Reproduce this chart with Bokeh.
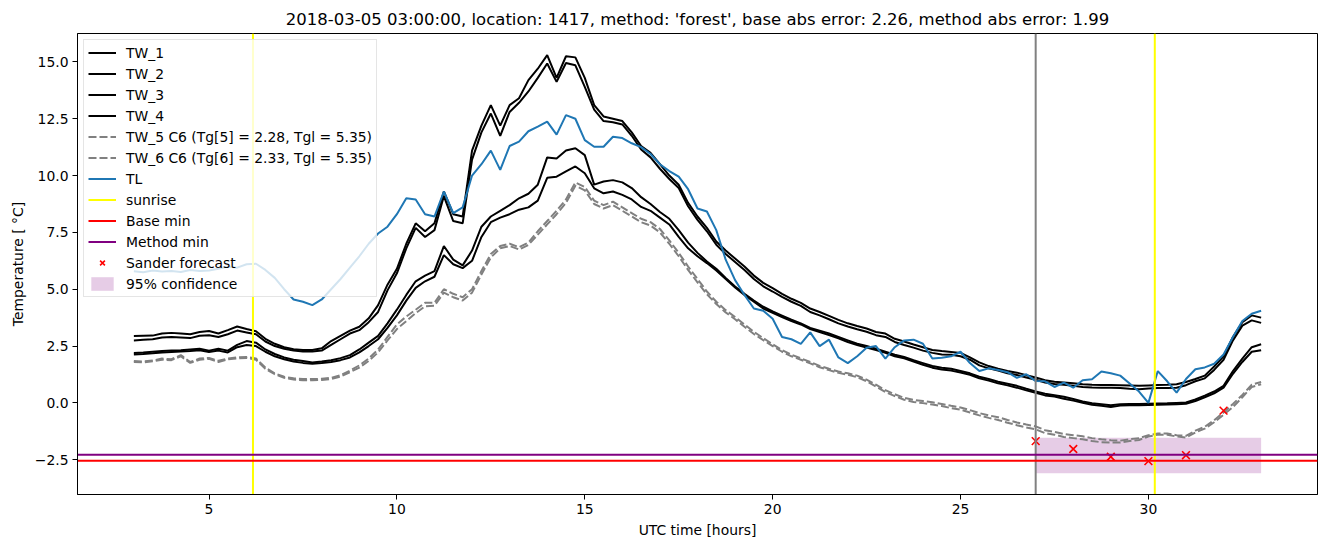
import numpy as np
from bokeh.plotting import figure
from bokeh.models import (ColumnDataSource, Range1d, Span, Legend, LegendItem,
                          FixedTicker)
from bokeh.embed import file_html
from bokeh.resources import INLINE

# ---------------- data ----------------
time_h = np.arange(3.0, 33.001, 0.25)   # UTC time [hours], 15-min grid

TW_1 = [2.94, 2.95, 2.96, 3.05, 3.08, 3.05, 3.02, 3.12,
        3.16, 3.05, 3.20, 3.36, 3.25, 3.15, 2.82, 2.60,
        2.45, 2.36, 2.33, 2.33, 2.40, 2.72, 2.95, 3.18,
        3.35, 3.72, 4.30, 5.20, 5.90, 7.00, 7.90, 7.55,
        7.90, 9.30, 8.30, 8.20, 11.10, 12.20, 13.10, 12.20,
        13.10, 13.40, 14.20, 14.70, 15.30, 14.30, 15.25, 15.20,
        14.30, 13.10, 12.60, 12.50, 12.40, 11.90, 11.30, 11.00,
        10.50, 10.00, 9.60, 8.80, 8.20, 7.70, 7.10, 6.70,
        6.35, 6.00, 5.60, 5.28, 5.05, 4.80, 4.58, 4.40,
        4.15, 4.00, 3.83, 3.65, 3.50, 3.38, 3.27, 3.12,
        3.05, 2.82, 2.70, 2.57, 2.45, 2.33, 2.28, 2.24,
        2.20, 2.00, 1.78, 1.62, 1.50, 1.40, 1.33, 1.22,
        1.12, 1.00, 0.93, 0.90, 0.86, 0.82, 0.80, 0.79,
        0.79, 0.78, 0.77, 0.75, 0.77, 0.79, 0.80, 0.82,
        0.92, 1.05, 1.20, 1.60, 2.05, 2.90, 3.55, 3.85,
        3.75]

TW_2 = [2.75, 2.78, 2.80, 2.88, 2.90, 2.88, 2.85, 2.95,
        2.98, 2.90, 3.02, 3.18, 3.10, 3.02, 2.70, 2.50,
        2.38, 2.30, 2.26, 2.26, 2.30, 2.55, 2.80, 3.05,
        3.20, 3.55, 4.00, 4.95, 5.70, 6.80, 7.70, 7.30,
        7.60, 9.10, 8.00, 7.90, 10.70, 11.90, 12.73, 11.75,
        12.80, 13.20, 13.70, 14.30, 14.93, 14.12, 14.95, 14.85,
        13.90, 12.90, 12.40, 12.35, 12.25, 11.75, 11.15, 10.80,
        10.30, 9.85, 9.45, 8.65, 8.05, 7.55, 6.96, 6.55,
        6.20, 5.85, 5.45, 5.13, 4.90, 4.66, 4.45, 4.27,
        4.00, 3.85, 3.68, 3.50, 3.36, 3.24, 3.13, 2.98,
        2.90, 2.68, 2.55, 2.43, 2.30, 2.20, 2.13, 2.12,
        2.05, 1.90, 1.65, 1.52, 1.42, 1.30, 1.23, 1.12,
        1.02, 0.90, 0.83, 0.80, 0.75, 0.70, 0.68, 0.67,
        0.67, 0.66, 0.62, 0.60, 0.63, 0.65, 0.66, 0.67,
        0.78, 0.95, 1.08, 1.45, 1.90, 2.75, 3.40, 3.63,
        3.52]

TW_3 = [2.20, 2.22, 2.25, 2.28, 2.30, 2.32, 2.35, 2.38,
        2.30, 2.38, 2.30, 2.55, 2.72, 2.65, 2.35, 2.15,
        2.00, 1.90, 1.84, 1.78, 1.82, 1.88, 1.97, 2.10,
        2.35, 2.65, 2.95, 3.50, 4.10, 4.75, 5.35, 5.60,
        5.80, 6.90, 6.30, 6.05, 6.70, 7.75, 8.20, 8.45,
        8.70, 9.00, 9.20, 9.60, 10.80, 10.75, 11.10, 11.20,
        10.90, 9.60, 9.74, 9.80, 9.70, 9.45, 9.05, 8.75,
        8.40, 8.10, 7.60, 7.05, 6.60, 6.22, 5.90, 5.50,
        5.12, 4.80, 4.50, 4.23, 4.02, 3.84, 3.66, 3.50,
        3.30, 3.18, 3.05, 2.90, 2.75, 2.60, 2.50, 2.38,
        2.25, 2.12, 2.02, 1.88, 1.75, 1.62, 1.55, 1.50,
        1.40, 1.30, 1.15, 1.05, 0.93, 0.84, 0.75, 0.62,
        0.50, 0.40, 0.34, 0.27, 0.17, 0.06, -0.02, -0.06,
        -0.10, -0.06, -0.05, -0.05, -0.04, -0.03, -0.02, 0.00,
        0.02, 0.15, 0.32, 0.50, 0.75, 1.40, 1.95, 2.45,
        2.58]

TW_4 = [2.13, 2.15, 2.18, 2.22, 2.24, 2.26, 2.28, 2.32,
        2.24, 2.30, 2.22, 2.45, 2.55, 2.50, 2.25, 2.05,
        1.92, 1.82, 1.76, 1.72, 1.75, 1.80, 1.88, 2.00,
        2.22, 2.50, 2.80, 3.30, 3.85, 4.50, 5.06, 5.35,
        5.55, 6.50, 6.10, 5.93, 6.25, 7.30, 7.95, 8.15,
        8.30, 8.50, 8.60, 8.90, 9.90, 9.95, 10.18, 10.40,
        10.10, 9.44, 9.22, 9.30, 9.15, 8.95, 8.62, 8.45,
        8.15, 7.85, 7.30, 6.80, 6.45, 6.15, 5.82, 5.45,
        5.08, 4.75, 4.45, 4.15, 3.96, 3.78, 3.60, 3.45,
        3.25, 3.12, 2.98, 2.84, 2.68, 2.55, 2.43, 2.32,
        2.20, 2.05, 1.96, 1.82, 1.68, 1.55, 1.47, 1.42,
        1.34, 1.24, 1.08, 0.98, 0.86, 0.77, 0.67, 0.55,
        0.44, 0.33, 0.28, 0.18, 0.10, 0.01, -0.08, -0.13,
        -0.18, -0.12, -0.10, -0.10, -0.09, -0.08, -0.07, -0.06,
        -0.04, 0.08, 0.25, 0.42, 0.67, 1.28, 1.80, 2.25,
        2.32]

TW_5 = [1.84, 1.82, 1.86, 1.95, 1.92, 2.10, 1.80, 1.95,
        1.98, 1.85, 1.95, 2.00, 2.02, 1.95, 1.55, 1.30,
        1.15, 1.08, 1.05, 1.05, 1.06, 1.10, 1.22, 1.42,
        1.65, 1.95, 2.35, 2.90, 3.45, 3.80, 4.10, 4.40,
        4.40, 5.00, 4.80, 4.65, 5.00, 5.80, 6.55, 6.90,
        7.00, 6.85, 7.05, 7.55, 8.00, 8.45, 8.95, 9.70,
        9.50, 8.90, 8.70, 8.85, 8.60, 8.35, 8.10, 7.95,
        7.65, 7.15, 6.60, 6.00, 5.45, 4.90, 4.45, 4.08,
        3.78, 3.45, 3.13, 2.85, 2.58, 2.32, 2.12, 1.96,
        1.80, 1.63, 1.50, 1.38, 1.30, 1.20, 1.02, 0.80,
        0.56, 0.38, 0.22, 0.13, 0.08, 0.03, -0.05, -0.13,
        -0.20, -0.32, -0.45, -0.55, -0.63, -0.75, -0.86, -0.95,
        -1.03, -1.20, -1.28, -1.37, -1.42, -1.47, -1.55, -1.60,
        -1.64, -1.66, -1.60, -1.55, -1.42, -1.35, -1.35, -1.42,
        -1.45, -1.22, -1.05, -0.76, -0.42, -0.05, 0.35, 0.80,
        0.92]

TW_6 = [1.80, 1.78, 1.83, 1.90, 1.88, 2.05, 1.76, 1.90,
        1.94, 1.80, 1.92, 1.96, 1.98, 1.90, 1.50, 1.26,
        1.10, 1.03, 1.00, 1.00, 1.01, 1.05, 1.16, 1.35,
        1.55, 1.85, 2.22, 2.75, 3.25, 3.60, 3.95, 4.25,
        4.28, 4.85, 4.65, 4.50, 4.85, 5.65, 6.40, 6.80,
        6.90, 6.75, 6.95, 7.40, 7.85, 8.30, 8.80, 9.55,
        9.35, 8.75, 8.55, 8.70, 8.45, 8.20, 7.95, 7.80,
        7.50, 7.00, 6.45, 5.85, 5.30, 4.78, 4.35, 3.98,
        3.68, 3.35, 3.03, 2.76, 2.50, 2.25, 2.05, 1.90,
        1.74, 1.57, 1.44, 1.32, 1.24, 1.13, 0.95, 0.72,
        0.48, 0.30, 0.14, 0.04, -0.01, -0.07, -0.14, -0.23,
        -0.30, -0.42, -0.55, -0.66, -0.75, -0.87, -0.98, -1.08,
        -1.16, -1.33, -1.40, -1.50, -1.55, -1.60, -1.68, -1.73,
        -1.74, -1.74, -1.68, -1.63, -1.48, -1.40, -1.40, -1.48,
        -1.52, -1.30, -1.13, -0.85, -0.52, -0.18, 0.25, 0.70,
        0.82]

TL = [5.79, 5.75, 5.82, 5.78, 5.80, 5.76, 5.85, 5.80,
      5.82, 5.90, 6.00, 5.95, 6.10, 6.12, 5.85, 5.50,
      5.00, 4.55, 4.45, 4.30, 4.55, 5.00, 5.45, 5.95,
      6.45, 7.00, 7.45, 7.75, 8.30, 9.00, 8.95, 8.30,
      8.20, 9.30, 8.35, 8.60, 10.00, 10.50, 11.10, 10.25,
      11.30, 11.49, 11.95, 12.15, 12.37, 11.80, 12.66, 12.50,
      11.56, 11.27, 11.27, 11.71, 11.65, 11.42, 11.25, 10.95,
      10.50, 10.20, 9.95, 9.40, 8.55, 8.42, 7.60, 6.30,
      5.40, 4.75, 4.15, 4.05, 3.70, 2.90, 2.80, 2.60,
      3.10, 2.50, 2.78, 2.00, 1.75, 2.05, 2.43, 2.50,
      1.95, 2.45, 2.75, 2.78, 2.60, 1.95, 1.99, 2.05,
      2.25, 1.75, 1.40, 1.52, 1.45, 1.35, 1.10, 1.26,
      0.96, 0.95, 0.70, 0.89, 0.67, 1.00, 1.04, 1.38,
      1.30, 1.20, 0.85, 0.50, 0.00, 1.40, 0.95, 0.45,
      1.05, 1.48, 1.56, 1.72, 2.13, 2.90, 3.60, 3.92,
      4.05]

tw_labels = ["TW_1", "TW_2", "TW_3", "TW_4",
             "TW_5 C6 (Tg[5] = 2.28, Tgl = 5.35)",
             "TW_6 C6 (Tg[6] = 2.33, Tgl = 5.35)"]

sunrise_hours = [6.17, 30.17]
forecast_start = [27.0]
base_min = [-2.54]
method_min = [-2.28]

sander_time = [27, 28, 29, 30, 31, 32]
sander_temp = [-1.68, -2.03, -2.37, -2.56, -2.30, -0.34]

conf_time = [27.0, 33.0]
conf_low = [-3.10, -3.10]
conf_high = [-1.53, -1.53]

x_ticks = [5, 10, 15, 20, 25, 30]
y_ticks = [-2.5, 0.0, 2.5, 5.0, 7.5, 10.0, 12.5, 15.0]
y_tick_labels = ["\u22122.5", "0.0", "2.5", "5.0", "7.5", "10.0", "12.5", "15.0"]

title_text = ("2018-03-05 03:00:00, location: 1417, method: 'forest', "
              "base abs error: 2.26, method abs error: 1.99")

FONT = "DejaVu Sans"

# ---------------- figure ----------------
p = figure(width=1324, height=545, output_backend="svg", toolbar_location=None,
           x_range=Range1d(1.5, 34.5), y_range=Range1d(-4.03, 16.25),
           min_border_left=77, min_border_right=7, min_border_top=33,
           min_border_bottom=51, title=title_text)

p.title.align = "center"
p.title.text_font = FONT
p.title.text_font_size = "16.5px"
p.title.text_font_style = "normal"
p.title.text_color = "black"
p.title.standoff = 9

p.xgrid.visible = False
p.ygrid.visible = False
p.outline_line_color = "black"
p.outline_line_width = 1
p.outline_line_alpha = 1
p.background_fill_color = "white"
p.border_fill_color = "white"

for ax in (p.xaxis[0], p.yaxis[0]):
    ax.axis_line_color = "black"
    ax.major_tick_line_color = "black"
    ax.major_tick_out = 5
    ax.major_tick_in = 0
    ax.minor_tick_line_color = None
    ax.major_label_text_font = FONT
    ax.major_label_text_font_size = "13.9px"
    ax.major_label_text_color = "black"
    ax.axis_label_text_font = FONT
    ax.axis_label_text_font_size = "13.9px"
    ax.axis_label_text_font_style = "normal"
    ax.axis_label_text_color = "black"
    ax.major_label_standoff = 4

p.xaxis.ticker = FixedTicker(ticks=x_ticks)
p.xaxis.major_label_overrides = {t: str(t) for t in x_ticks}
p.yaxis.ticker = FixedTicker(ticks=y_ticks)
p.yaxis.major_label_overrides = dict(zip(y_ticks, y_tick_labels))
p.xaxis.axis_label = "UTC time [hours]"
p.yaxis.axis_label = "Temperature [ \u00b0C]"
p.xaxis.axis_label_standoff = 5
p.yaxis.axis_label_standoff = 6

# confidence band (under everything)
band = p.varea(x=conf_time, y1=conf_low, y2=conf_high,
               fill_color="purple", fill_alpha=0.2)

src = ColumnDataSource(dict(t=time_h, TW_1=TW_1, TW_2=TW_2, TW_3=TW_3,
                            TW_4=TW_4, TW_5=TW_5, TW_6=TW_6, TL=TL))

tw_renderers = []
for name in ["TW_1", "TW_2", "TW_3", "TW_4"]:
    tw_renderers.append(p.line("t", name, source=src, line_color="black",
                               line_width=2))
for name in ["TW_5", "TW_6"]:
    tw_renderers.append(p.line("t", name, source=src, line_color="gray",
                               line_width=2, line_dash="8 3"))
tl_r = p.line("t", "TL", source=src, line_color="#1f77b4", line_width=2)

# vertical / horizontal reference lines
for s in sunrise_hours:
    p.add_layout(Span(location=s, dimension="height", line_color="yellow",
                      line_width=2, level="glyph"))
for s in forecast_start:
    p.add_layout(Span(location=s, dimension="height", line_color="gray",
                      line_width=2, level="glyph"))
for v in base_min:
    p.add_layout(Span(location=v, dimension="width", line_color="red",
                      line_width=2, level="glyph"))
for v in method_min:
    p.add_layout(Span(location=v, dimension="width", line_color="purple",
                      line_width=2, level="glyph"))

# legend proxies (one NaN point, draws nothing in the plot)
nan_pt = [float("nan")]
sun_r = p.line(x=nan_pt, y=nan_pt, line_color="yellow", line_width=2)
base_r = p.line(x=nan_pt, y=nan_pt, line_color="red", line_width=2)
meth_r = p.line(x=nan_pt, y=nan_pt, line_color="purple", line_width=2)

sander_r = p.scatter(sander_time, sander_temp, marker="x", size=11,
                     line_color="red", line_width=1.6)

items = [LegendItem(label=lab, renderers=[r]) for lab, r in zip(tw_labels, tw_renderers)]
items += [LegendItem(label="TL", renderers=[tl_r]),
          LegendItem(label="sunrise", renderers=[sun_r]),
          LegendItem(label="Base min", renderers=[base_r]),
          LegendItem(label="Method min", renderers=[meth_r]),
          LegendItem(label="Sander forecast", renderers=[sander_r]),
          LegendItem(label="95% confidence", renderers=[band])]

legend = Legend(items=items, location="top_left")
legend.margin = 6
legend.padding = 4
legend.spacing = 4
legend.glyph_width = 28
legend.glyph_height = 17
legend.label_height = 17
legend.label_standoff = 10
legend.label_text_font = FONT
legend.label_text_font_size = "13.9px"
legend.label_text_color = "black"
legend.border_line_color = "#cccccc"
legend.border_line_width = 1
legend.background_fill_color = "white"
legend.background_fill_alpha = 0.8
p.add_layout(legend)

open("out.html", "w").write(file_html(p, INLINE))
